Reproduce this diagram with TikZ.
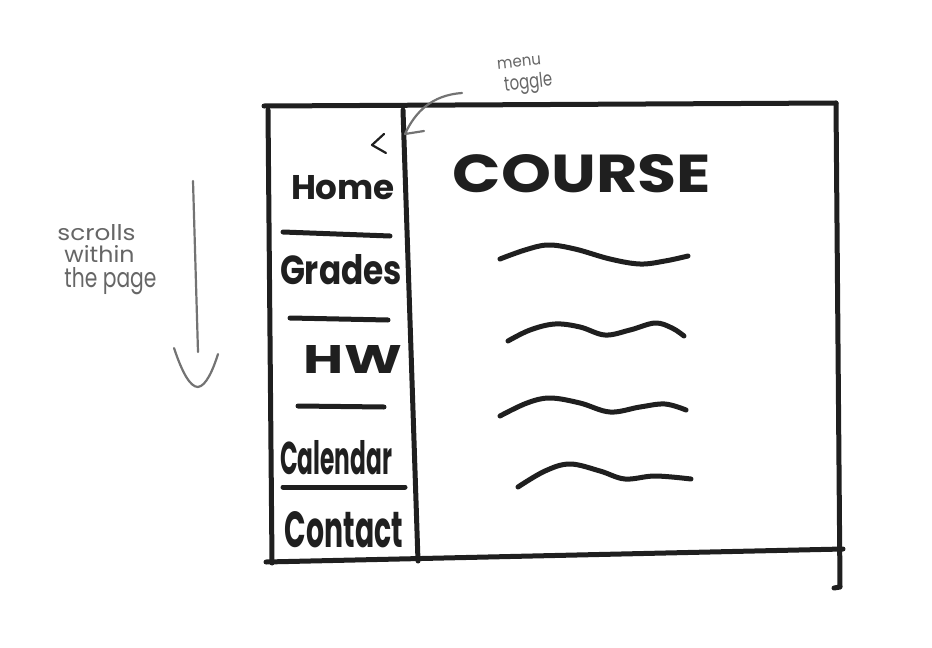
\documentclass[tikz,border=0pt]{standalone}
\usepackage{fontspec}
\setmainfont{Poppins}
\newfontfamily\hand{Poppins}
\begin{document}
\begin{tikzpicture}[x=1pt,y=-1pt,
  ink/.style={line width=5pt,draw=black!88,line cap=round,line join=round},
  thinink/.style={line width=2.2pt,draw=black!88,line cap=round,line join=round},
  note/.style={line width=2.2pt,draw=black!55,line cap=round,line join=round},
  notetext/.style={text=black!60,font=\hand,inner sep=0pt,align=left},
  menuitem/.style={text=black!88,inner sep=0pt},
  squiggle/.style={ink,smooth,tension=0.6}]
\useasboundingbox (0,0) rectangle (932,648);

% page frame
\coordinate (tl) at (264,106);
\coordinate (tr) at (836,103);
\coordinate (rb) at (840,587);
\coordinate (hook) at (834,588);
\coordinate (bl) at (266,562);
\coordinate (br) at (843,549);
\coordinate (lt) at (268,110);
\coordinate (lb) at (272,563);
\coordinate (dt) at (403,110);
\coordinate (db) at (418,561);
\draw[ink] (tl) -- (tr);
\draw[ink] (tr) -- (rb) -- (hook);
\draw[ink] (bl) -- (br);
\draw[ink] (lt) -- (lb);
\draw[ink] (dt) -- (db);

% collapse toggle
\coordinate (ta) at (384,134);
\coordinate (tb) at (372,145);
\coordinate (tc) at (386,153);
\draw[thinink] (ta) -- (tb) -- (tc);

% sidebar menu
\node[menuitem] (home) at (343,188) {\resizebox{104pt}{24pt}{\bfseries Home}};
\node[menuitem] (grades) at (341,270) {\resizebox{122pt}{30pt}{\bfseries Grades}};
\node[menuitem] (hw) at (353,359) {\resizebox{98pt}{28pt}{\bfseries HW}};
\node[menuitem] (calendar) at (336,458) {\resizebox{112pt}{34pt}{\bfseries Calendar}};
\node[menuitem] (contact) at (344,530) {\resizebox{118pt}{36pt}{\bfseries Contact}};

\coordinate (s1a) at (283,232); \coordinate (s1b) at (390,236);
\coordinate (s2a) at (290,318); \coordinate (s2b) at (388,320);
\coordinate (s3a) at (298,406); \coordinate (s3b) at (384,407);
\coordinate (s4a) at (283,487); \coordinate (s4b) at (405,487);
\draw[ink] (s1a) -- (s1b);
\draw[ink] (s2a) -- (s2b);
\draw[ink] (s3a) -- (s3b);
\draw[ink] (s4a) -- (s4b);

% main content
\node[menuitem] (title) at (582,174) {\resizebox{258pt}{38pt}{\bfseries COURSE}};
\draw[squiggle] plot coordinates {(500,259) (525,250) (548,245) (575,249) (610,259) (640,264) (665,261) (688,256)};
\draw[squiggle] plot coordinates {(508,341) (530,330) (555,324) (580,327) (605,335) (630,330) (655,323) (672,328) (684,336)};
\draw[squiggle] plot coordinates {(500,416) (527,403) (550,398) (580,403) (610,412) (640,407) (665,404) (686,410)};
\draw[squiggle] plot coordinates {(518,487) (545,471) (570,464) (600,471) (625,479) (655,476) (691,479)};

% annotation: menu toggle
\node[notetext,rotate=6] (menulbl) at (525,76)
  {\resizebox{44pt}{9pt}{menu}\\[6pt] \hspace*{5pt}\resizebox{48pt}{15pt}{toggle}};
\coordinate (m0) at (462,93);
\coordinate (mtip) at (405,134);
\coordinate (mbarb) at (424,131);
\draw[note] (m0) .. controls (432,95) and (415,112) .. (mtip) -- (mbarb);

% annotation: scrolling
\node[notetext] (scrolllbl) at (107,260)
  {\resizebox{78pt}{16pt}{scrolls}\\[4pt]
   \hspace*{7pt}\resizebox{70pt}{17pt}{within}\\[4pt]
   \hspace*{7pt}\resizebox{92pt}{20pt}{the page}};
\coordinate (a0) at (193,181);
\coordinate (a1) at (198,352);
\coordinate (hl) at (174,348);
\coordinate (hp) at (198,387);
\coordinate (hr) at (218,354);
\draw[note] (a0) -- (a1);
\draw[note] (hl) .. controls (182,372) and (190,387) .. (hp) .. controls (206,386) and (213,370) .. (hr);
\end{tikzpicture}
\end{document}
